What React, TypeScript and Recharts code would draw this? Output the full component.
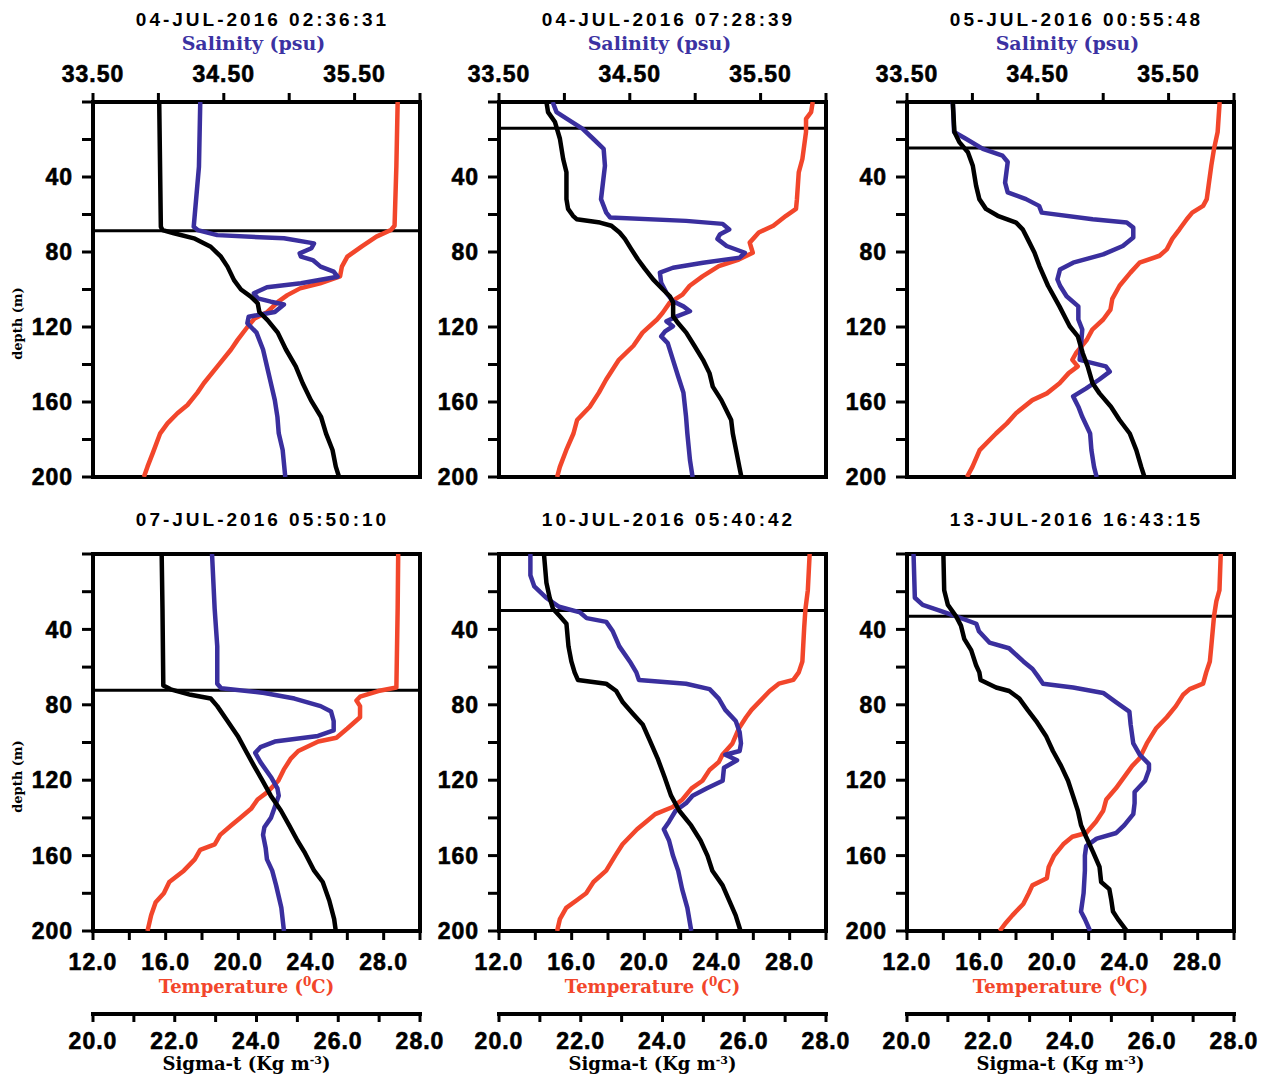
import React from 'react';
import { ScatterChart, Scatter, XAxis, YAxis, ReferenceLine, Label } from 'recharts';

type Pt = [number, number]; // [depth (m), value]

const titles = [
  '04-JUL-2016 02:36:31',
  '04-JUL-2016 07:28:39',
  '05-JUL-2016 00:55:48',
  '07-JUL-2016 05:50:10',
  '10-JUL-2016 05:40:42',
  '13-JUL-2016 16:43:15',
];
const mixedLayerDepth = [68.6, 14, 24.5, 72.3, 30, 33];

const salTicks = [33.5, 34, 34.5, 35, 35.5, 36];
const tempTicks = [12, 14, 16, 18, 20, 22, 24, 26, 28, 30];
const sigmaTicks = [20, 21, 22, 23, 24, 25, 26, 27, 28];
const depthTicks = [0, 20, 40, 60, 80, 100, 120, 140, 160, 180, 200];

// 04-JUL-2016 02:36:31
const jul04aTemp: Pt[] = [[0,28.77],[34,28.7],[66,28.6],[68.3,28.4],[71.8,27.6],[77,26.8],[82.5,26.0],[87.8,25.7],[93,25.6],[96.7,24.5],[99.4,23.4],[103,22.7],[106.5,22.2],[112,21.6],[115.4,20.9],[120,20.5],[127,19.95],[132,19.6],[141,18.85],[150,18.1],[155,17.75],[161.6,17.2],[166,16.65],[171.4,16.1],[176.7,15.7],[187,15.3],[194.5,15.0],[200,14.8]];
const jul04aSal: Pt[] = [[0,34.32],[34.5,34.31],[66.5,34.27],[68.3,34.3],[71,34.45],[72.7,34.96],[75.4,35.19],[78,35.17],[80.7,35.08],[82.5,35.09],[84.3,35.18],[87.8,35.24],[90.5,35.34],[93.2,35.37],[96.7,35.09],[98.8,34.83],[102,34.73],[104.7,34.76],[106.5,34.86],[108,34.96],[112,34.89],[114.5,34.69],[118,34.68],[123,34.75],[132,34.8],[141,34.83],[150,34.86],[159,34.89],[168,34.91],[176.7,34.92],[185.6,34.95],[200,34.97]];
const jul04aSig: Pt[] = [[0,21.62],[66.5,21.66],[68.3,21.7],[70,21.98],[72.7,22.47],[77.2,22.88],[82.5,23.13],[87.8,23.29],[95,23.45],[100,23.62],[103.8,23.86],[107.4,24.03],[112,24.07],[116.3,24.27],[123,24.52],[132,24.72],[141,24.96],[150,25.13],[159,25.33],[168,25.58],[176.7,25.7],[185.6,25.86],[194.5,25.94],[200,26.02]];

// 04-JUL-2016 07:28:39
const jul04bTemp: Pt[] = [[0,29.27],[5.4,29.18],[9,28.9],[16,28.9],[30.4,28.7],[37.5,28.5],[51.8,28.4],[57,28.35],[60.7,27.8],[66,27.1],[69.6,26.3],[75,25.8],[80.4,25.97],[84,25.2],[87.5,24.1],[93,23.2],[98,22.5],[102.7,22.1],[107,21.4],[112.5,21.0],[116,20.7],[123,19.9],[130,19.4],[137.5,18.6],[148,17.9],[155,17.5],[162.5,17.0],[169.6,16.3],[176.8,16.1],[185.7,15.7],[194.6,15.35],[200,15.2]];
const jul04bSal: Pt[] = [[0,33.91],[5.4,33.94],[9,34.02],[14.3,34.14],[19.6,34.22],[25,34.3],[34,34.31],[51.8,34.28],[59,34.32],[61.6,34.35],[63.4,34.93],[65,35.21],[68,35.26],[70.5,35.19],[73,35.17],[76.8,35.24],[80.4,35.38],[83,35.34],[85.7,35.06],[88.4,34.83],[91,34.73],[96.4,34.74],[101.8,34.78],[106.3,34.83],[109,34.91],[111.6,34.96],[114.3,34.86],[117,34.78],[119.6,34.83],[122.3,34.77],[125,34.74],[128.6,34.79],[137.5,34.83],[146.4,34.87],[155,34.91],[167.9,34.93],[176.8,34.94],[191,34.96],[200,34.98]];
const jul04bSig: Pt[] = [[0,21.16],[5.4,21.2],[10.7,21.37],[19.6,21.49],[30.4,21.57],[37.5,21.65],[51.8,21.65],[57,21.69],[60.7,21.81],[62.5,21.9],[64.3,22.47],[66,22.75],[69.6,22.95],[73,23.08],[78.6,23.24],[84,23.4],[89,23.57],[94.6,23.77],[100,24.01],[103.6,24.18],[107,24.26],[114.3,24.26],[117.9,24.38],[123,24.58],[130,24.78],[137.5,24.99],[144.6,25.15],[151.8,25.23],[159,25.44],[169.6,25.68],[176.8,25.72],[185.7,25.8],[194.6,25.88],[200,25.93]];

// 05-JUL-2016 00:55:48
const jul05Temp: Pt[] = [[0,29.21],[16,29.1],[25,28.9],[34,28.75],[44.6,28.6],[51.8,28.5],[55.4,28.3],[59,27.7],[62.5,27.4],[67.9,27.0],[73,26.6],[78.6,26.3],[82,25.9],[85.7,24.8],[91,24.3],[98,23.7],[105,23.3],[110.7,23.2],[116,22.8],[121.4,22.2],[126.8,21.9],[134,21.3],[137.5,21.1],[141,21.4],[144.6,20.9],[150,20.4],[155.4,19.7],[159,18.9],[166,18.0],[171.4,17.5],[176.8,16.9],[185.7,16.0],[194.6,15.6],[200,15.3]];
const jul05Sal: Pt[] = [[0,33.85],[16,33.86],[19.6,33.95],[25,34.08],[28.6,34.23],[32,34.27],[43,34.25],[48.2,34.27],[51.8,34.41],[55.4,34.51],[59,34.53],[62.5,34.92],[64.3,35.18],[67,35.23],[72.3,35.23],[76.8,35.15],[81.3,35.0],[85.7,34.77],[89.3,34.67],[94.6,34.65],[98,34.67],[103.6,34.72],[109,34.81],[116,34.81],[121.4,34.84],[130,34.83],[137.5,34.82],[141,35.02],[143.8,35.05],[148,34.97],[152.7,34.87],[157,34.77],[162.5,34.81],[167.9,34.84],[176.8,34.9],[185.7,34.91],[194.6,34.93],[200,34.95]];
const jul05Sig: Pt[] = [[0,21.12],[16,21.16],[21.4,21.28],[26.8,21.49],[34,21.61],[44.6,21.69],[51.8,21.77],[57,21.93],[60.7,22.22],[64.3,22.67],[67.9,22.83],[73,22.95],[80.4,23.12],[87.5,23.24],[98,23.45],[109,23.73],[119.6,23.98],[125,24.18],[134,24.3],[141,24.42],[150,24.54],[155.4,24.71],[162.5,24.99],[169.6,25.2],[176.8,25.45],[185.7,25.61],[194.6,25.73],[200,25.81]];

// 07-JUL-2016 05:50:10
const jul07Temp: Pt[] = [[0,28.8],[29,28.77],[70.8,28.7],[72.7,27.7],[75.7,26.7],[77.7,26.5],[80.7,26.7],[86.6,26.7],[92.6,26.0],[97.5,25.4],[99.5,24.4],[104.5,23.3],[108.4,22.9],[114.4,22.5],[120.3,22.2],[126.3,21.6],[130.2,21.06],[135.2,20.7],[140,20.1],[144,19.6],[149,19.0],[154,18.7],[157,17.9],[162,17.6],[168,17.0],[174,16.2],[180,15.9],[184.7,15.45],[191.7,15.2],[200,15.0]];
const jul07Sal: Pt[] = [[0,34.41],[29,34.43],[49,34.45],[68.8,34.45],[71.2,34.48],[73.7,34.81],[76.7,35.04],[80.7,35.24],[83.6,35.32],[88.6,35.34],[93.6,35.34],[96.5,35.22],[99.5,34.89],[102.5,34.78],[105.5,34.74],[110.4,34.78],[118.3,34.86],[124.3,34.91],[128.2,34.92],[134.2,34.89],[140,34.86],[145,34.81],[149,34.8],[156,34.82],[162,34.83],[168,34.87],[175.8,34.9],[187.7,34.94],[200,34.96]];
const jul07Sig: Pt[] = [[0,21.68],[29,21.7],[69.8,21.72],[71.8,21.9],[74.7,22.39],[76.7,22.88],[80.7,23.04],[88.6,23.29],[96.5,23.54],[104.5,23.74],[112.4,23.94],[120.3,24.15],[128.2,24.35],[136.2,24.6],[144,24.8],[152,25.0],[158,25.17],[168,25.41],[174,25.62],[183.8,25.78],[193.7,25.9],[200,25.94]];

// 10-JUL-2016 05:40:42
const jul10Temp: Pt[] = [[0,29.1],[19.2,29.0],[29,28.87],[39,28.8],[57,28.7],[62.8,28.5],[66.8,28.2],[68.8,27.4],[72.7,26.9],[78.7,26.3],[82.7,25.9],[86.6,25.6],[92.6,25.2],[100.5,24.85],[106.5,24.3],[110.4,24.1],[114.4,23.6],[120.3,23.2],[124.3,22.6],[130.2,22.1],[134.2,21.56],[138,20.6],[142,20.1],[146,19.6],[150,19.2],[154,18.8],[160,18.4],[168,17.9],[174,17.2],[180,16.8],[183.8,16.26],[187.7,15.7],[193.7,15.35],[200,15.2]];
const jul10Sal: Pt[] = [[0,33.74],[11.3,33.74],[17.2,33.77],[23.2,33.86],[28,33.96],[31,34.12],[34,34.17],[36,34.32],[41,34.37],[49,34.42],[57,34.5],[62.8,34.55],[66.8,34.57],[68.8,34.93],[71.7,35.11],[76.7,35.18],[82.7,35.23],[88.6,35.31],[94.6,35.34],[100.5,35.35],[104.5,35.34],[106.5,35.23],[109.4,35.32],[113.4,35.22],[120.3,35.21],[124.3,35.09],[128.2,34.98],[132.2,34.93],[136.2,34.85],[142,34.8],[146,34.76],[152,34.8],[160,34.83],[168,34.87],[177.8,34.9],[187.7,34.94],[200,34.97]];
const jul10Sig: Pt[] = [[0,21.1],[15.3,21.16],[23.2,21.24],[29,21.32],[33,21.49],[37,21.65],[49,21.7],[57,21.77],[62.8,21.85],[66.8,21.93],[68.8,22.62],[72.7,22.87],[78.7,23.03],[84.6,23.27],[90.6,23.52],[98.5,23.68],[108.4,23.88],[118.3,24.05],[128.2,24.21],[136.2,24.41],[144,24.7],[152,24.93],[160,25.1],[168,25.22],[175.8,25.47],[183.8,25.63],[191.7,25.79],[200,25.91]];

// 13-JUL-2016 16:43:15
const jul13Temp: Pt[] = [[0,29.27],[19.2,29.2],[25,29.03],[33,28.9],[49,28.75],[57,28.67],[62.8,28.47],[68.8,28.3],[71.7,27.56],[74.7,27.2],[80.7,26.8],[86.6,26.3],[92.6,25.7],[100.5,25.2],[108.4,24.8],[112.4,24.4],[116.4,24.1],[124.3,23.5],[130.2,22.97],[136.2,22.8],[142,22.4],[148,21.86],[150,21.1],[154,20.6],[160,20.1],[166,19.8],[172,19.7],[175.8,18.9],[180,18.7],[185.7,18.4],[191.7,17.8],[195.6,17.45],[200,17.1]];
const jul13Sal: Pt[] = [[0,33.55],[23.2,33.56],[27,33.62],[30,33.75],[33,33.87],[37,34.03],[41,34.05],[47,34.13],[50,34.28],[57,34.39],[61,34.46],[64.8,34.5],[68.8,34.54],[70.8,34.77],[73.7,35.0],[78.7,35.1],[83.6,35.2],[90.6,35.21],[100.5,35.23],[106.5,35.28],[111.5,35.35],[114.4,35.35],[120.3,35.32],[126.3,35.24],[132.2,35.24],[138,35.23],[144,35.16],[148,35.1],[151,34.95],[155,34.87],[160,34.86],[168,34.86],[180,34.85],[189.7,34.83],[193.7,34.86],[200,34.9]];
const jul13Sig: Pt[] = [[0,20.89],[19.2,20.91],[27,21.0],[33,21.2],[38,21.32],[45,21.4],[51,21.57],[59,21.69],[62.8,21.77],[66.8,21.8],[70.8,22.18],[72.7,22.5],[76.7,22.75],[82.7,22.95],[88.6,23.16],[96.5,23.4],[104.5,23.57],[112.4,23.77],[120.3,23.94],[128.2,24.06],[136.2,24.18],[144,24.26],[150,24.38],[158,24.55],[166,24.71],[174,24.75],[177.8,24.95],[183.8,25.0],[189.7,25.04],[193.7,25.16],[200,25.38]];

const profiles = [
  { temp: jul04aTemp, sal: jul04aSal, sig: jul04aSig },
  { temp: jul04bTemp, sal: jul04bSal, sig: jul04bSig },
  { temp: jul05Temp, sal: jul05Sal, sig: jul05Sig },
  { temp: jul07Temp, sal: jul07Sal, sig: jul07Sig },
  { temp: jul10Temp, sal: jul10Sal, sig: jul10Sig },
  { temp: jul13Temp, sal: jul13Sal, sig: jul13Sig },
];

const RED = '#F2462B';
const BLUE = '#3A2F9E';
const SANS = '"Liberation Sans", Arial, Helvetica, sans-serif';
const SERIF = '"DejaVu Serif", serif';

const plotLefts = [93, 499, 907];
const YW = 93; // left axis width
const PW = 327; // plot width
const RW = 20; // right axis width
const RM = 12; // extra room so the last sigma label is not cut
const CW = YW + PW + RW + RM;

const tickStyle = {
  fill: '#000', stroke: '#000', strokeWidth: 0.6, fontSize: 23, fontWeight: 700, fontFamily: SANS, letterSpacing: 1,
};
const axisLine = { stroke: '#000', strokeWidth: 4, strokeLinecap: 'square' as const };
const tickLine = { stroke: '#000', strokeWidth: 3 };

const fmtSal = (v: number) => (v === 33.5 || v === 34.5 || v === 35.5 ? v.toFixed(2) : '');
const fmtTemp = (v: number) => ((v - 12) % 4 === 0 && v < 30 ? v.toFixed(1) : '');
const fmtSig = (v: number) => (v % 2 === 0 ? v.toFixed(1) : '');
const fmtDepth = (v: number) => (v > 0 && v % 40 === 0 ? String(v) : '');

const toPts = (arr: Pt[]) => arr.map(([d, v]) => ({ d, v }));
const noDot = () => <g />;

const salLabel = (p: any) => {
  const { x, y, width } = p.viewBox;
  return (
    <text x={x + width / 2 - 3} y={y + 20} textAnchor="middle" fill="#3B32A2"
      style={{ fontFamily: SERIF, fontWeight: 700, fontSize: 19 }}>
      Salinity (psu)
    </text>
  );
};

const tempLabel = (p: any) => {
  const { x, y, width } = p.viewBox;
  return (
    <text x={x + width / 2 - 10} y={y + 62} textAnchor="middle" fill={RED}
      style={{ fontFamily: SERIF, fontWeight: 700, fontSize: 18 }}>
      Temperature (<tspan dy={-7} fontSize={12}>0</tspan><tspan dy={7}>C)</tspan>
    </text>
  );
};

const sigLabel = (p: any) => {
  const { x, y, width } = p.viewBox;
  return (
    <text x={x + width / 2 - 10} y={y + 56} textAnchor="middle" fill="#000"
      style={{ fontFamily: SERIF, fontWeight: 700, fontSize: 18 }}>
      Sigma-t (Kg m<tspan dy={-6} fontSize={11}>-3</tspan><tspan dy={6}>)</tspan>
    </text>
  );
};

const depthLabel = (p: any) => {
  const { x, y, height } = p.viewBox;
  const cx = x + 22;
  const cy = y + height / 2 + 34;
  return (
    <text x={cx} y={cy} transform={`rotate(-90 ${cx} ${cy})`} textAnchor="middle" fill="#000"
      style={{ fontFamily: SERIF, fontWeight: 700, fontSize: 13 }}>
      depth (m)
    </text>
  );
};

function Panel({ idx }: { idx: number }) {
  const row = Math.floor(idx / 3);
  const col = idx % 3;
  const isTop = row === 0;
  const { temp, sal, sig } = profiles[idx];
  const height = isTop ? 489 : 581;

  return (
    <div style={{ position: 'absolute', left: plotLefts[col] - YW, top: isTop ? 0 : 500, width: CW, height }}>
      <div
        style={{
          position: 'absolute', left: YW + PW / 2 + 6 - 160, width: 320, top: 9.5,
          textAlign: 'center', fontFamily: SANS, fontWeight: 700, fontSize: 19, lineHeight: '19px', letterSpacing: 3,
        }}
      >
        {titles[idx]}
      </div>
      <ScatterChart width={CW} height={height} margin={{ top: isTop ? 30 : 0, right: RM, bottom: 0, left: 0 }}>
        <XAxis
          xAxisId="s" orientation="top" type="number" dataKey="v" domain={[33.5, 36]} allowDataOverflow
          ticks={salTicks} interval={0} height={isTop ? 72 : 54} tick={isTop ? tickStyle : false}
          tickFormatter={fmtSal} tickSize={9} tickMargin={11} axisLine={axisLine} tickLine={tickLine}
          label={isTop ? <Label content={salLabel} /> : undefined}
        />
        <XAxis
          xAxisId="b" orientation="bottom" type="number" dataKey="v" domain={[20, 28]} allowDataOverflow
          hide={isTop} ticks={sigmaTicks} interval={0} height={67} tick={tickStyle}
          tickFormatter={fmtSig} tickSize={8} tickMargin={11} axisLine={axisLine} tickLine={tickLine}
          label={isTop ? undefined : <Label content={sigLabel} />}
        />
        <XAxis
          xAxisId="a" orientation="bottom" type="number" dataKey="v" domain={[12, 30]} allowDataOverflow
          ticks={tempTicks} interval={0} height={isTop ? 12 : 83} tick={isTop ? false : tickStyle}
          tickFormatter={fmtTemp} tickSize={9} tickMargin={14} axisLine={axisLine} tickLine={tickLine}
          label={isTop ? undefined : <Label content={tempLabel} />}
        />
        <YAxis
          yAxisId="d" type="number" dataKey="d" domain={[0, 200]} reversed allowDataOverflow
          ticks={depthTicks} interval={0} width={YW} tick={tickStyle} tickFormatter={fmtDepth}
          tickSize={11} tickMargin={9} axisLine={axisLine} tickLine={tickLine}
          label={col === 0 ? <Label content={depthLabel} /> : undefined}
        />
        <YAxis
          yAxisId="r" orientation="right" type="number" dataKey="d" domain={[0, 200]} reversed allowDataOverflow
          ticks={depthTicks} interval={0} width={RW} tick={false} tickSize={11}
          axisLine={axisLine} tickLine={tickLine}
        />
        <ReferenceLine xAxisId="a" yAxisId="d" y={mixedLayerDepth[idx]} stroke="#000" strokeWidth={3} />
        <Scatter
          name="Temperature" data={toPts(temp)} xAxisId="a" yAxisId="d" fill={RED} shape={noDot}
          line={{ stroke: RED, strokeWidth: 4.5, strokeLinejoin: 'round' }} isAnimationActive={false}
        />
        <Scatter
          name="Salinity" data={toPts(sal)} xAxisId="s" yAxisId="d" fill={BLUE} shape={noDot}
          line={{ stroke: BLUE, strokeWidth: 4.5, strokeLinejoin: 'round' }} isAnimationActive={false}
        />
        <Scatter
          name="Sigma-t" data={toPts(sig)} xAxisId="b" yAxisId="r" fill="#000" shape={noDot}
          line={{ stroke: '#000', strokeWidth: 4.5, strokeLinejoin: 'round' }} isAnimationActive={false}
        />
      </ScatterChart>
    </div>
  );
}

export default function App() {
  return (
    <div style={{ position: 'absolute', left: 0, top: 0, width: 1272, height: 1081, background: '#fff' }}>
      {titles.map((_, i) => (
        <Panel key={i} idx={i} />
      ))}
    </div>
  );
}
